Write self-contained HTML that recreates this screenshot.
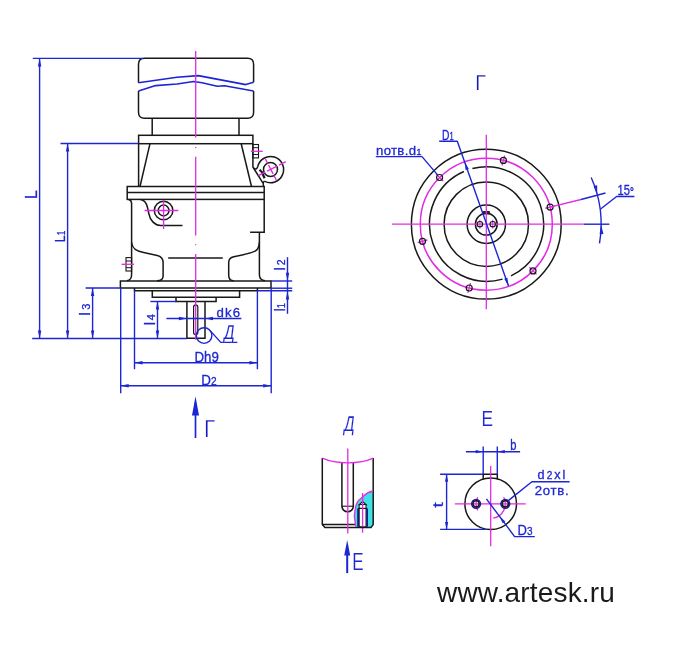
<!DOCTYPE html>
<html lang="ru"><head><meta charset="utf-8"><title>Чертеж</title>
<style>
html,body{margin:0;padding:0;background:#fff;}
body{width:674px;height:652px;overflow:hidden;}
svg{display:block;will-change:transform;font-family:"Liberation Sans",sans-serif;}
</style></head><body>
<svg width="674" height="652" viewBox="0 0 674 652" fill="none" stroke-linecap="butt">
<rect x="0" y="0" width="674" height="652" fill="#ffffff"/>
<path d="M138.5,82.7 V64.3 Q138.5,58.3 144.5,58.3 H247.6 Q253.6,58.3 253.6,64.3 V82.3" stroke="#181818" stroke-width="1.5" fill="none" />
<path d="M138.5,91 V112.3 Q138.5,118.3 144.5,118.3 H247.6 Q253.6,118.3 253.6,112.3 V91" stroke="#181818" stroke-width="1.5" fill="none" />
<polyline points="138.5,82.7 177.0,77.3 198.3,75.6 245.8,84.6 253.6,82.3" stroke="#1c26d2" stroke-width="1.6" fill="none" stroke-linejoin="round"/>
<polyline points="138.5,91.0 155.6,85.6 177.0,84.0 193.6,81.5 202.0,82.7 217.3,86.3 224.5,85.8 253.6,91.0" stroke="#1c26d2" stroke-width="1.6" fill="none" stroke-linejoin="round"/>
<line x1="152.2" y1="118.3" x2="152.2" y2="135.3" stroke="#181818" stroke-width="1.5" />
<line x1="239.0" y1="118.3" x2="239.0" y2="135.3" stroke="#181818" stroke-width="1.5" />
<rect x="138.6" y="135.3" width="114.3" height="8.4" stroke="#181818" stroke-width="1.5" fill="none"/>
<line x1="138.6" y1="143.7" x2="138.6" y2="186.5" stroke="#181818" stroke-width="1.5" />
<line x1="150.0" y1="143.7" x2="140.0" y2="186.5" stroke="#181818" stroke-width="1.5" />
<line x1="241.2" y1="143.7" x2="251.5" y2="186.5" stroke="#181818" stroke-width="1.5" />
<path d="M252.9,143.7 V167 L263.3,183.7 V186.5" stroke="#181818" stroke-width="1.5" fill="none" />
<rect x="252.9" y="144.5" width="5.6" height="13.4" stroke="#181818" stroke-width="1.1" fill="none"/>
<line x1="252.9" y1="147.7" x2="258.5" y2="147.7" stroke="#181818" stroke-width="1" />
<line x1="252.9" y1="154.5" x2="258.5" y2="154.5" stroke="#181818" stroke-width="1" />
<line x1="250.9" y1="151.3" x2="262.7" y2="151.3" stroke="#e22be2" stroke-width="1.3" />
<path d="M257.7,166.8 A13.1,13.1 0 1 1 264.3,181.1" stroke="#181818" stroke-width="1.5" fill="none" />
<path d="M257.7,166.8 Q256.5,170.5 253.6,168" stroke="#181818" stroke-width="1.5" fill="none" />
<path d="M264.3,181.1 L262.9,183.2" stroke="#181818" stroke-width="1.5" fill="none" />
<circle cx="270.5" cy="169.5" r="7.0" stroke="#181818" stroke-width="1.5" fill="none"/>
<line x1="259.5" y1="169.7" x2="264.2" y2="174.2" stroke="#181818" stroke-width="2.2" />
<line x1="262.2" y1="172.9" x2="264.6" y2="178.3" stroke="#181818" stroke-width="2.2" />
<line x1="258.5" y1="175.6" x2="285.8" y2="161.7" stroke="#e22be2" stroke-width="1.4" stroke-dasharray="7.5 2.2 11.2 2.2 7.5"/>
<line x1="265.4" y1="159.0" x2="276.2" y2="179.9" stroke="#e22be2" stroke-width="1.4" stroke-dasharray="5 1.8 10 1.8 5"/>
<rect x="127.2" y="186.5" width="137.0" height="12.9" stroke="#181818" stroke-width="1.5" fill="none"/>
<line x1="127.2" y1="192.4" x2="264.2" y2="192.4" stroke="#181818" stroke-width="1.5" />
<path d="M128.6,199.4 Q131.6,200 131.6,203.5 V274.4 Q131.6,280 127,280.8" stroke="#181818" stroke-width="1.5" fill="none" />
<path d="M140.4,199.4 C146.5,200 147.6,207 148.8,213.7 C150,220.5 155,225.5 160.6,225.5 H182.5" stroke="#181818" stroke-width="1.5" fill="none" />
<circle cx="163.6" cy="210.5" r="9.3" stroke="#181818" stroke-width="1.5" fill="none"/>
<circle cx="163.6" cy="210.5" r="5.4" stroke="#181818" stroke-width="1.5" fill="none"/>
<line x1="144.6" y1="210.5" x2="178.3" y2="210.5" stroke="#e22be2" stroke-width="1.3" />
<line x1="163.6" y1="200.0" x2="163.6" y2="229.0" stroke="#e22be2" stroke-width="1.3" />
<path d="M131.6,242.4 C132.2,249.5 137.5,251.4 143.7,252.5 L157.2,255.5 C161,256.4 163.1,259 163.1,262.6 V276 C163.1,279 161,280.8 157,280.8" stroke="#181818" stroke-width="1.5" fill="none" />
<rect x="126.0" y="257.6" width="5.6" height="13.4" stroke="#181818" stroke-width="1.1" fill="none"/>
<line x1="126.0" y1="261.0" x2="131.6" y2="261.0" stroke="#181818" stroke-width="1" />
<line x1="126.0" y1="267.7" x2="131.6" y2="267.7" stroke="#181818" stroke-width="1" />
<line x1="121.5" y1="264.3" x2="134.0" y2="264.3" stroke="#e22be2" stroke-width="1.3" />
<line x1="168.2" y1="258.0" x2="222.8" y2="258.0" stroke="#181818" stroke-width="1.5" />
<path d="M264.2,199.4 V232.3 H250.1" stroke="#181818" stroke-width="1.5" fill="none" />
<path d="M259.4,232.3 V275 Q259.6,280 265,280.8" stroke="#181818" stroke-width="1.5" fill="none" />
<path d="M259.4,242.4 C259,248 257.8,249.8 255.6,250.8 C250,253.6 240,255.5 233.7,256.7 C230.5,257.4 228.7,259.5 228.7,262.6 V275.3 C228.7,278.6 230.5,280.8 233.7,280.8" stroke="#181818" stroke-width="1.5" fill="none" />
<rect x="120.4" y="281.0" width="150.6" height="7.0" stroke="#181818" stroke-width="1.5" fill="none"/>
<path d="M134.5,287.9 V290.8 H257.4 V287.9" stroke="#181818" stroke-width="1.5" fill="none" />
<path d="M152.3,290.8 V297.2 H239.6 V290.8" stroke="#181818" stroke-width="1.5" fill="none" />
<path d="M176,297.2 V301.4 H216.1 V297.2" stroke="#181818" stroke-width="1.5" fill="none" />
<path d="M186.9,301.4 V338.2 H205 V301.4" stroke="#181818" stroke-width="1.5" fill="none" />
<rect x="193.6" y="304.9" width="4.2" height="29.6" rx="2.1" ry="2.1" stroke="#181818" stroke-width="1.2" fill="none"/>
<line x1="195.7" y1="51.0" x2="195.7" y2="137.5" stroke="#e22be2" stroke-width="1.3" />
<line x1="195.7" y1="146.9" x2="195.7" y2="147.9" stroke="#e22be2" stroke-width="1.3" />
<line x1="195.7" y1="156.7" x2="195.7" y2="235.4" stroke="#e22be2" stroke-width="1.3" />
<line x1="195.7" y1="244.3" x2="195.7" y2="245.3" stroke="#e22be2" stroke-width="1.3" />
<line x1="195.7" y1="254.1" x2="195.7" y2="339.7" stroke="#e22be2" stroke-width="1.3" />
<line x1="32.8" y1="58.4" x2="143.0" y2="58.4" stroke="#1c26d2" stroke-width="1.4" />
<line x1="39.6" y1="58.4" x2="39.6" y2="338.5" stroke="#1c26d2" stroke-width="1.4" />
<polygon points="39.6,58.4 41.3,66.4 37.9,66.4" fill="#1c26d2"/>
<polygon points="39.6,338.5 37.9,330.5 41.3,330.5" fill="#1c26d2"/>
<line x1="60.5" y1="143.5" x2="138.6" y2="143.5" stroke="#1c26d2" stroke-width="1.4" />
<line x1="67.6" y1="143.5" x2="67.6" y2="338.5" stroke="#1c26d2" stroke-width="1.4" />
<polygon points="67.6,143.5 69.3,151.5 65.9,151.5" fill="#1c26d2"/>
<polygon points="67.6,338.5 65.9,330.5 69.3,330.5" fill="#1c26d2"/>
<line x1="32.2" y1="338.5" x2="186.9" y2="338.5" stroke="#1c26d2" stroke-width="1.4" />
<line x1="85.6" y1="288.0" x2="120.5" y2="288.0" stroke="#1c26d2" stroke-width="1.4" />
<line x1="92.6" y1="288.0" x2="92.6" y2="338.5" stroke="#1c26d2" stroke-width="1.4" />
<polygon points="92.6,288.0 94.3,296.0 90.9,296.0" fill="#1c26d2"/>
<polygon points="92.6,338.5 90.9,330.5 94.3,330.5" fill="#1c26d2"/>
<line x1="120.7" y1="288.0" x2="120.7" y2="393.2" stroke="#1c26d2" stroke-width="1.4" />
<line x1="271.2" y1="288.0" x2="271.2" y2="393.2" stroke="#1c26d2" stroke-width="1.4" />
<line x1="134.5" y1="290.5" x2="134.5" y2="369.2" stroke="#1c26d2" stroke-width="1.4" />
<line x1="257.4" y1="290.5" x2="257.4" y2="369.2" stroke="#1c26d2" stroke-width="1.4" />
<line x1="134.5" y1="362.7" x2="257.4" y2="362.7" stroke="#1c26d2" stroke-width="1.4" />
<polygon points="134.5,362.7 142.5,361.0 142.5,364.4" fill="#1c26d2"/>
<polygon points="257.4,362.7 249.4,364.4 249.4,361.0" fill="#1c26d2"/>
<line x1="120.7" y1="385.8" x2="271.2" y2="385.8" stroke="#1c26d2" stroke-width="1.4" />
<polygon points="120.7,385.8 128.7,384.1 128.7,387.5" fill="#1c26d2"/>
<polygon points="271.2,385.8 263.2,387.5 263.2,384.1" fill="#1c26d2"/>
<line x1="150.4" y1="301.5" x2="176.0" y2="301.5" stroke="#1c26d2" stroke-width="1.4" />
<line x1="157.5" y1="301.5" x2="157.5" y2="338.5" stroke="#1c26d2" stroke-width="1.4" />
<polygon points="157.5,301.5 159.2,309.5 155.8,309.5" fill="#1c26d2"/>
<polygon points="157.5,338.5 155.8,330.5 159.2,330.5" fill="#1c26d2"/>
<line x1="166.4" y1="318.5" x2="241.4" y2="318.5" stroke="#1c26d2" stroke-width="1.4" />
<polygon points="186.9,318.5 178.9,320.2 178.9,316.8" fill="#1c26d2"/>
<polygon points="205.0,318.5 213.0,316.8 213.0,320.2" fill="#1c26d2"/>
<circle cx="204.1" cy="335.6" r="7.8" stroke="#1c26d2" stroke-width="1.4" fill="none"/>
<polyline points="209.9,330.4 220.8,342.4 237.4,342.4" stroke="#1c26d2" stroke-width="1.4" fill="none" stroke-linejoin="round"/>
<line x1="287.5" y1="257.2" x2="287.5" y2="313.8" stroke="#1c26d2" stroke-width="1.4" />
<line x1="271.0" y1="281.0" x2="292.2" y2="281.0" stroke="#1c26d2" stroke-width="1.4" />
<line x1="271.0" y1="288.2" x2="292.2" y2="288.2" stroke="#1c26d2" stroke-width="1.4" />
<line x1="257.4" y1="290.8" x2="292.2" y2="290.8" stroke="#1c26d2" stroke-width="1.4" />
<polygon points="287.5,281.0 285.8,272.8 289.2,272.8" fill="#1c26d2"/>
<polygon points="287.5,291.2 289.2,299.4 285.8,299.4" fill="#1c26d2"/>
<line x1="195.5" y1="410.0" x2="195.5" y2="438.0" stroke="#1c26d2" stroke-width="1.7" />
<polygon points="195.5,396.2 199.0,415.5 192.0,415.5" fill="#1c26d2"/>
<text x="0" y="0" transform="translate(37.2,199.0) rotate(-90)" font-size="16" fill="#1c26d2" stroke="#1c26d2" stroke-width="0.3" text-anchor="start" >L</text>
<text x="0" y="0" transform="translate(64.8,242.2) rotate(-90)" font-size="15" fill="#1c26d2" stroke="#1c26d2" stroke-width="0.3" text-anchor="start" textLength="11.5" lengthAdjust="spacingAndGlyphs" >L<tspan font-size="10">1</tspan></text>
<text x="0" y="0" transform="translate(90.0,315.4) rotate(-90)" font-size="14.8" fill="#1c26d2" stroke="#1c26d2" stroke-width="0.3" text-anchor="start" textLength="11.8" lengthAdjust="spacing" >l<tspan font-size="11">3</tspan></text>
<text x="0" y="0" transform="translate(155.0,325.2) rotate(-90)" font-size="14.4" fill="#1c26d2" stroke="#1c26d2" stroke-width="0.3" text-anchor="start" textLength="11.0" lengthAdjust="spacing" >l<tspan font-size="11">4</tspan></text>
<text x="0" y="0" transform="translate(284.7,270.5) rotate(-90)" font-size="14.4" fill="#1c26d2" stroke="#1c26d2" stroke-width="0.3" text-anchor="start" textLength="11.2" lengthAdjust="spacing" >l<tspan font-size="10.5">2</tspan></text>
<text x="0" y="0" transform="translate(284.7,311.2) rotate(-90)" font-size="14.4" fill="#1c26d2" stroke="#1c26d2" stroke-width="0.3" text-anchor="start" textLength="8.0" lengthAdjust="spacingAndGlyphs" >l<tspan font-size="10">1</tspan></text>
<text x="216.4" y="316.7" font-size="13.2" fill="#1c26d2" stroke="#1c26d2" stroke-width="0.3" text-anchor="start" textLength="23.6" lengthAdjust="spacing" >dk6</text>
<text x="194.4" y="361.9" font-size="14.6" fill="#1c26d2" stroke="#1c26d2" stroke-width="0.3" text-anchor="start" textLength="24.4" lengthAdjust="spacingAndGlyphs" >Dh9</text>
<text x="201.3" y="385.1" font-size="14.6" fill="#1c26d2" stroke="#1c26d2" stroke-width="0.3" text-anchor="start" textLength="15.3" lengthAdjust="spacingAndGlyphs" >D<tspan font-size="11">2</tspan></text>
<text x="223.3" y="338.7" font-size="20" fill="#1c26d2" stroke="#fff" stroke-width="0.1" text-anchor="start" textLength="10.6" lengthAdjust="spacingAndGlyphs" transform="translate(223.3,338.7) skewX(-7) translate(-223.3,-338.7)">Д</text>
<text x="204.2" y="437.1" font-size="23.4" fill="#1616c0" stroke="#fff" stroke-width="0.25" text-anchor="start" textLength="10.8" lengthAdjust="spacingAndGlyphs" >Г</text>
<text x="475.3" y="90.3" font-size="22.6" fill="#1616b4" stroke="#fff" stroke-width="0.25" text-anchor="start" textLength="10.6" lengthAdjust="spacingAndGlyphs" >Г</text>
<circle cx="486.3" cy="224.2" r="74.9" stroke="#181818" stroke-width="1.5" fill="none"/>
<circle cx="486.3" cy="224.2" r="66.0" stroke="#e22be2" stroke-width="1.5" fill="none"/>
<path d="M472.4,168.6 A57.3,57.3 0 0 1 511.0,275.9" stroke="#181818" stroke-width="1.5" fill="none" />
<path d="M502.6,279.1 A57.3,57.3 0 0 1 463.9,171.5" stroke="#181818" stroke-width="1.5" fill="none" />
<circle cx="486.3" cy="224.2" r="42.2" stroke="#181818" stroke-width="1.5" fill="none"/>
<circle cx="486.3" cy="224.2" r="19.2" stroke="#181818" stroke-width="1.5" fill="none"/>
<circle cx="486.3" cy="224.2" r="10.9" stroke="#181818" stroke-width="1.5" fill="none"/>
<rect x="483.3" y="211.6" width="6.0" height="2.2" stroke="#181818" stroke-width="1" fill="#333"/>
<line x1="392.0" y1="224.2" x2="583.6" y2="224.2" stroke="#e22be2" stroke-width="1.3" />
<line x1="583.6" y1="224.2" x2="609.4" y2="224.2" stroke="#1c26d2" stroke-width="1.4" />
<line x1="486.3" y1="134.8" x2="486.3" y2="309.2" stroke="#e22be2" stroke-width="1.3" />
<line x1="479.9" y1="219.7" x2="479.9" y2="228.7" stroke="#e22be2" stroke-width="1" />
<circle cx="479.9" cy="224.2" r="2.7" stroke="#181818" stroke-width="1.1" fill="none"/>
<line x1="492.7" y1="219.7" x2="492.7" y2="228.7" stroke="#e22be2" stroke-width="1" />
<circle cx="492.7" cy="224.2" r="2.7" stroke="#181818" stroke-width="1.1" fill="none"/>
<line x1="545.2" y1="208.4" x2="554.9" y2="205.8" stroke="#e22be2" stroke-width="1.3" />
<circle cx="550.1" cy="207.1" r="3.0" stroke="#181818" stroke-width="1.2" fill="none"/>
<line x1="502.1" y1="165.3" x2="504.7" y2="155.6" stroke="#e22be2" stroke-width="1.3" />
<circle cx="503.4" cy="160.4" r="3.0" stroke="#181818" stroke-width="1.2" fill="none"/>
<line x1="443.2" y1="181.1" x2="436.1" y2="174.0" stroke="#e22be2" stroke-width="1.3" />
<circle cx="439.6" cy="177.5" r="3.0" stroke="#181818" stroke-width="1.2" fill="none"/>
<line x1="427.4" y1="240.0" x2="417.7" y2="242.6" stroke="#e22be2" stroke-width="1.3" />
<circle cx="422.5" cy="241.3" r="3.0" stroke="#181818" stroke-width="1.2" fill="none"/>
<line x1="470.5" y1="283.1" x2="467.9" y2="292.8" stroke="#e22be2" stroke-width="1.3" />
<circle cx="469.2" cy="288.0" r="3.0" stroke="#181818" stroke-width="1.2" fill="none"/>
<line x1="529.4" y1="267.3" x2="536.5" y2="274.4" stroke="#e22be2" stroke-width="1.3" />
<circle cx="533.0" cy="270.9" r="3.0" stroke="#181818" stroke-width="1.2" fill="none"/>
<line x1="550.1" y1="207.1" x2="581.0" y2="199.5" stroke="#e22be2" stroke-width="1.3" />
<line x1="581.0" y1="199.5" x2="605.5" y2="193.0" stroke="#1c26d2" stroke-width="1.4" />
<path d="M591.2,177.5 A114.8,114.8 0 0 1 599.5,243.3" stroke="#1c26d2" stroke-width="1.4" fill="none" />
<polygon points="597.2,194.5 593.5,186.1 597.2,185.3" fill="#1c26d2"/>
<polygon points="601.1,224.2 603.4,234.1 599.6,234.3" fill="#1c26d2"/>
<polyline points="600.6,209.0 616.6,196.5 634.4,196.5" stroke="#1c26d2" stroke-width="1.4" fill="none" stroke-linejoin="round"/>
<text x="617.6" y="195.2" font-size="14" fill="#1c26d2" stroke="#1c26d2" stroke-width="0.3" text-anchor="start" textLength="16.3" lengthAdjust="spacingAndGlyphs" >15<tspan font-size="12" font-weight="bold" dy="0.8">°</tspan></text>
<polyline points="439.2,141.3 457.3,141.3 508.5,286.0" stroke="#1c26d2" stroke-width="1.4" fill="none" stroke-linejoin="round"/>
<polygon points="508.5,286.0 504.2,278.8 507.4,277.7" fill="#1c26d2"/>
<polygon points="464.6,162.0 468.9,169.1 465.7,170.3" fill="#1c26d2"/>
<text x="442.0" y="139.9" font-size="14.3" fill="#1c26d2" stroke="#1c26d2" stroke-width="0.3" text-anchor="start" textLength="11.6" lengthAdjust="spacingAndGlyphs" >D<tspan font-size="10.5">1</tspan></text>
<polyline points="375.8,156.6 422.0,156.6 437.6,174.9" stroke="#1c26d2" stroke-width="1.4" fill="none" stroke-linejoin="round"/>
<text x="376.0" y="155.3" font-size="13.2" fill="#1c26d2" stroke="#1c26d2" stroke-width="0.3" text-anchor="start" textLength="45.6" lengthAdjust="spacing" >nотв.d<tspan font-size="9.5">1</tspan></text>
<text x="343.2" y="430.7" font-size="21.4" fill="#1c26d2" stroke="#fff" stroke-width="0.15" text-anchor="start" textLength="10.6" lengthAdjust="spacingAndGlyphs" transform="translate(343.2,430.7) skewX(-7) translate(-343.2,-430.7)">Д</text>
<path d="M372.9,491 C368,492 365,494.5 363.6,496 C361,498.5 359,500 358.1,501.1 C356.8,503 356.3,504 356,505.3 C355.4,508 355,510 354.8,512 L354.3,516.3 L355.2,522.2 L355.6,527 L371.2,527.3 L373.2,524.7 Z" stroke="none" stroke-width="0" fill="#3fe0e6" />
<path d="M359.2,504.6 L362.6,501.6 L366,504.6 Z" stroke="#181818" stroke-width="1.2" fill="#fff" />
<rect x="359.2" y="504.6" width="6.8" height="22.2" stroke="#181818" stroke-width="1.0" fill="#fff"/>
<line x1="358.0" y1="508.4" x2="367.2" y2="508.4" stroke="#181818" stroke-width="1.2" />
<line x1="358.1" y1="508.4" x2="358.1" y2="526.8" stroke="#15157a" stroke-width="1.7" />
<line x1="367.1" y1="508.4" x2="367.1" y2="526.8" stroke="#15157a" stroke-width="1.7" />
<line x1="362.6" y1="493.0" x2="362.6" y2="532.7" stroke="#e22be2" stroke-width="1.3" />
<path d="M322.3,458.1 V524.4 L324.9,527.5 H371 L373.2,524.6 V458.1" stroke="#181818" stroke-width="1.5" fill="none" />
<line x1="322.3" y1="524.5" x2="355.3" y2="524.5" stroke="#181818" stroke-width="1.5" />
<path d="M341.9,462 V506.2 A5.7,5.6 0 0 0 353.3,506.2 V462.2" stroke="#181818" stroke-width="1.5" fill="none" />
<line x1="341.9" y1="506.2" x2="353.3" y2="506.2" stroke="#181818" stroke-width="1.1" />
<path d="M322.3,458.1 C330,461.5 338,462.8 347.7,462.8 C358,462.8 366,461.5 373.2,458.1" stroke="#e22be2" stroke-width="1.3" fill="none" />
<path d="M372.9,491 C368,492 365,494.5 363.6,496 C361,498.5 359,500 358.1,501.1 C356.8,503 356.3,504 356,505.3 C355.4,508 355,510 354.8,512 L354.3,516.3 L355.2,522.2 L355.6,526.5" stroke="#e22be2" stroke-width="1.3" fill="none" />
<line x1="347.8" y1="448.4" x2="347.8" y2="533.5" stroke="#e22be2" stroke-width="1.3" />
<line x1="347.2" y1="552.0" x2="347.2" y2="573.1" stroke="#1c26d2" stroke-width="2.0" />
<polygon points="347.2,539.9 350.2,555.5 344.2,555.5" fill="#1c26d2"/>
<text x="352.3" y="570.4" font-size="23.2" fill="#1c26d2" stroke="#fff" stroke-width="0.2" text-anchor="start" textLength="11.4" lengthAdjust="spacingAndGlyphs" >E</text>
<text x="481.6" y="426.2" font-size="22.6" fill="#1c26d2" stroke="#fff" stroke-width="0.2" text-anchor="start" textLength="11.6" lengthAdjust="spacingAndGlyphs" >E</text>
<circle cx="490.7" cy="503.8" r="25.8" stroke="#181818" stroke-width="1.5" fill="none"/>
<path d="M483.2,479.2 V474.3 H497.3 V479.2" stroke="#181818" stroke-width="1.5" fill="none" />
<line x1="483.2" y1="446.6" x2="483.2" y2="474.3" stroke="#1c26d2" stroke-width="1.4" />
<line x1="497.3" y1="446.6" x2="497.3" y2="474.3" stroke="#1c26d2" stroke-width="1.4" />
<line x1="465.9" y1="451.7" x2="520.1" y2="451.7" stroke="#1c26d2" stroke-width="1.4" />
<polygon points="483.2,451.7 475.7,453.3 475.7,450.1" fill="#1c26d2"/>
<polygon points="497.3,451.7 504.8,450.1 504.8,453.3" fill="#1c26d2"/>
<text x="510.3" y="450.2" font-size="14" fill="#1c26d2" stroke="#1c26d2" stroke-width="0.3" text-anchor="start" textLength="6.2" lengthAdjust="spacingAndGlyphs" >b</text>
<line x1="440.1" y1="474.3" x2="483.2" y2="474.3" stroke="#1c26d2" stroke-width="1.4" />
<line x1="440.1" y1="529.4" x2="486.0" y2="529.4" stroke="#1c26d2" stroke-width="1.4" />
<line x1="446.6" y1="474.3" x2="446.6" y2="529.4" stroke="#1c26d2" stroke-width="1.4" />
<polygon points="446.6,474.3 448.2,481.8 445.0,481.8" fill="#1c26d2"/>
<polygon points="446.6,529.4 445.0,521.9 448.2,521.9" fill="#1c26d2"/>
<text x="0" y="0" transform="translate(443.3,507.6) rotate(-90)" font-size="14" fill="#1c26d2" stroke="#1c26d2" stroke-width="0.3" text-anchor="start" textLength="5.2" lengthAdjust="spacingAndGlyphs" >t</text>
<line x1="454.8" y1="503.8" x2="525.7" y2="503.8" stroke="#e22be2" stroke-width="1.3" />
<line x1="490.7" y1="465.9" x2="490.7" y2="546.3" stroke="#e22be2" stroke-width="1.3" />
<path d="M503.7,497.2 A14.6,14.6 0 0 1 493.2,518.2" stroke="#e22be2" stroke-width="1.3" fill="none" />
<path d="M477.7,510.4 A14.6,14.6 0 0 1 477.7,497.2" stroke="#e22be2" stroke-width="1.3" fill="none" />
<circle cx="476.1" cy="503.8" r="4.4" stroke="#1a1a96" stroke-width="1.5" fill="none"/>
<circle cx="476.1" cy="503.8" r="3.1" stroke="#181818" stroke-width="1.5" fill="none"/>
<circle cx="505.3" cy="503.8" r="4.4" stroke="#1a1a96" stroke-width="1.5" fill="none"/>
<circle cx="505.3" cy="503.8" r="3.1" stroke="#181818" stroke-width="1.5" fill="none"/>
<polyline points="486.4,498.8 514.6,536.6 534.8,536.6" stroke="#1c26d2" stroke-width="1.4" fill="none" stroke-linejoin="round"/>
<polygon points="499.5,516.3 505.3,521.4 502.7,523.3" fill="#1c26d2"/>
<text x="517.5" y="534.6" font-size="15" fill="#1c26d2" stroke="#1c26d2" stroke-width="0.3" text-anchor="start" textLength="15.0" lengthAdjust="spacingAndGlyphs" >D<tspan font-size="11.5">3</tspan></text>
<polyline points="508.6,500.4 531.9,481.8 569.6,481.8" stroke="#1c26d2" stroke-width="1.4" fill="none" stroke-linejoin="round"/>
<text x="537.6" y="479.0" font-size="12.6" fill="#1c26d2" stroke="#1c26d2" stroke-width="0.3" text-anchor="start" textLength="27.8" lengthAdjust="spacing" >d<tspan font-size="10">2</tspan>xl</text>
<text x="534.7" y="494.6" font-size="13.2" fill="#1c26d2" stroke="#1c26d2" stroke-width="0.3" text-anchor="start" textLength="34.0" lengthAdjust="spacing" >2отв.</text>
<text x="437" y="602" font-size="28" fill="#1a1a1a" textLength="177.8" lengthAdjust="spacing">www.artesk.ru</text>
</svg>
</body></html>
